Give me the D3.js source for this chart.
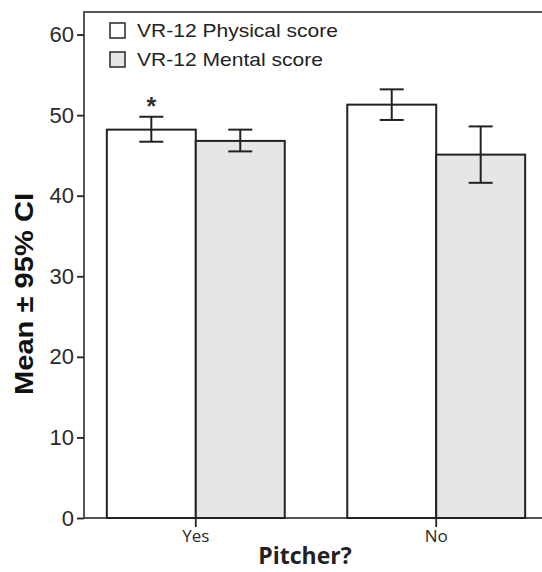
<!DOCTYPE html>
<html>
<head>
<meta charset="utf-8">
<script src="https://cdn.jsdelivr.net/npm/d3@7"></script>
<style>
  body { margin: 0; background: #fff; }
  .axis path, .axis line { stroke: #222; stroke-width: 1.8; }
  .axis text { font-family: "Liberation Sans", Arial, sans-serif; font-size: 22px; fill: #2a2a2a; }
  .axis--x text { font-family: "Open Sans", sans-serif; font-size: 17px; }
</style>
</head>
<body>
<svg width="542" height="572"></svg>
<script>
// chart values
var categories = ["Yes", "No"];
var seriesNames = ["VR-12 Physical score", "VR-12 Mental score"];
var physicalMean = [48.2, 51.3],
    physicalLow  = [46.7, 49.4],
    physicalHigh = [49.8, 53.2];
var mentalMean = [46.8, 45.1],
    mentalLow  = [45.5, 41.6],
    mentalHigh = [48.2, 48.6];
var yTicks = [0, 10, 20, 30, 40, 50, 60];
var significant = ["Yes"]; // physical score marked with *

var svg = d3.select("svg"),
    plot = {left: 84, right: 548, top: 12, bottom: 518};

var fills = ["#ffffff", "#e6e6e6"];

var data = categories.map(function(c, i) {
  return {
    cat: c,
    values: [
      {key: seriesNames[0], mean: physicalMean[i], lo: physicalLow[i], hi: physicalHigh[i]},
      {key: seriesNames[1], mean: mentalMean[i], lo: mentalLow[i], hi: mentalHigh[i]}
    ]
  };
});

var x0 = d3.scaleBand().domain(categories).range([plot.left, plot.right])
    .paddingInner(0.26).paddingOuter(0.095);
var x1 = d3.scaleBand().domain(seriesNames).range([0, x0.bandwidth()]);
var y = d3.scaleLinear().domain([0, 62.8]).range([plot.bottom, plot.top]);

// frame
svg.append("rect")
    .attr("x", plot.left).attr("y", plot.top)
    .attr("width", plot.right - plot.left).attr("height", plot.bottom - plot.top)
    .attr("fill", "none").attr("stroke", "#444").attr("stroke-width", 1.8);

var group = svg.selectAll(".group")
  .data(data)
  .enter().append("g")
    .attr("class", "group")
    .attr("transform", function(d) { return "translate(" + x0(d.cat) + ",0)"; });

group.selectAll("rect")
  .data(function(d) { return d.values; })
  .enter().append("rect")
    .attr("x", function(d) { return x1(d.key); })
    .attr("y", function(d) { return y(d.mean); })
    .attr("width", x1.bandwidth())
    .attr("height", function(d) { return y(0) - y(d.mean); })
    .attr("fill", function(d, i) { return fills[i]; })
    .attr("stroke", "#222").attr("stroke-width", 2);

// error bars
var capW = 12;
var err = group.selectAll(".err")
  .data(function(d) { return d.values; })
  .enter().append("g")
    .attr("class", "err")
    .attr("stroke", "#222").attr("stroke-width", 2);

err.append("line")
    .attr("x1", function(d) { return x1(d.key) + x1.bandwidth() / 2; })
    .attr("x2", function(d) { return x1(d.key) + x1.bandwidth() / 2; })
    .attr("y1", function(d) { return y(d.lo); })
    .attr("y2", function(d) { return y(d.hi); });
["lo", "hi"].forEach(function(k) {
  err.append("line")
    .attr("x1", function(d) { return x1(d.key) + x1.bandwidth() / 2 - capW; })
    .attr("x2", function(d) { return x1(d.key) + x1.bandwidth() / 2 + capW; })
    .attr("y1", function(d) { return y(d[k]); })
    .attr("y2", function(d) { return y(d[k]); });
});

// significance marker
group.filter(function(d) { return significant.indexOf(d.cat) >= 0; })
  .append("text")
    .attr("x", x1(seriesNames[0]) + x1.bandwidth() / 2)
    .attr("y", function(d) { return y(d.values[0].hi) - 2; })
    .attr("text-anchor", "middle")
    .style("font", "bold 25px 'Liberation Sans', Arial, sans-serif")
    .style("fill", "#333")
    .text("*");

// axes
svg.append("g")
    .attr("class", "axis axis--y")
    .attr("transform", "translate(" + plot.left + ",0)")
    .call(d3.axisLeft(y).tickValues(yTicks).tickSize(7).tickPadding(3).tickSizeOuter(0))
    .call(function(g) { g.select(".domain").remove(); });

svg.append("g")
    .attr("class", "axis axis--x")
    .attr("transform", "translate(0," + plot.bottom + ")")
    .call(d3.axisBottom(x0).tickSize(9).tickSizeOuter(0).tickPadding(3))
    .call(function(g) { g.select(".domain").remove(); });

svg.append("text")
    .attr("transform", "translate(33,294) rotate(-90)")
    .attr("text-anchor", "middle")
    .attr("textLength", 202).attr("lengthAdjust", "spacingAndGlyphs")
    .style("font", "bold 26px 'Liberation Sans', Arial, sans-serif")
    .style("fill", "#111")
    .text("Mean \u00b1 95% CI");

svg.append("text")
    .attr("x", 305).attr("y", 564)
    .attr("text-anchor", "middle")
    .style("font", "bold 23px 'Open Sans', sans-serif")
    .style("fill", "#222")
    .text("Pitcher?");

// legend
var legend = svg.selectAll(".legend")
  .data(seriesNames)
  .enter().append("g")
    .attr("class", "legend")
    .attr("transform", function(d, i) { return "translate(110," + (23 + i * 29) + ")"; });

legend.append("rect")
    .attr("width", 15).attr("height", 15)
    .attr("fill", function(d, i) { return fills[i]; })
    .attr("stroke", "#333").attr("stroke-width", 1.6);

legend.append("text")
    .attr("x", 27).attr("y", 14)
    .attr("textLength", function(d, i) { return i == 0 ? 201 : 186; })
    .attr("lengthAdjust", "spacingAndGlyphs")
    .style("font", "19px 'Liberation Sans', Arial, sans-serif")
    .style("fill", "#222")
    .text(function(d) { return d; });
</script>
</body>
</html>
